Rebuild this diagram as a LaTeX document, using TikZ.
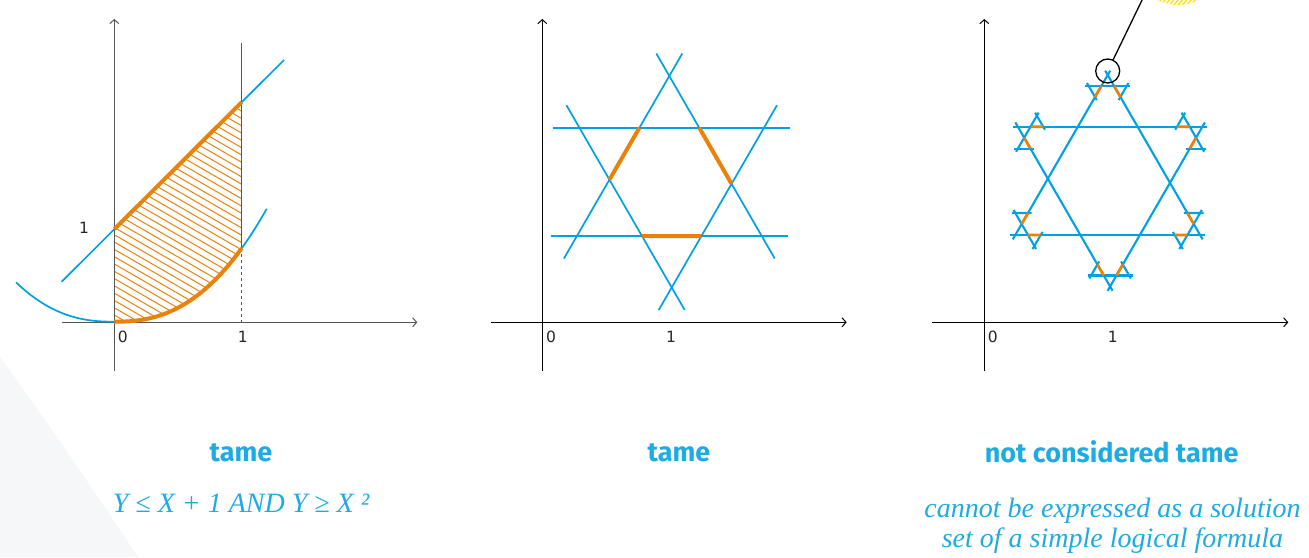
\documentclass[tikz,border=0pt]{standalone}
\usepackage{fontspec}
\newfontfamily\titlefont{Fira Sans}
\newfontfamily\labelfont{DejaVu Sans}
\newfontfamily\serifit{Liberation Serif}
\usetikzlibrary{calc,arrows.meta}
\definecolor{lineblue}{RGB}{0,160,227}
\definecolor{textblue}{RGB}{30,170,226}
\definecolor{orng}{RGB}{234,130,10}
\definecolor{bgfaint}{RGB}{246,247,249}
\definecolor{hatchyellow}{RGB}{255,222,0}
\definecolor{axisgray}{RGB}{85,85,85}
\newcommand\extline[4][blueline]{\draw[#1] ($(#2)!-#4!(#3)$) -- ($(#3)!-#4!(#2)$);}
\newcommand\tipdeco[3]{%
  \coordinate (kP1) at ($(#1)!12.7pt!(#2)$);
  \coordinate (kP2) at ($(#1)!25.4pt!(#2)$);
  \coordinate (kQ1) at ($(#1)!12.7pt!(#3)$);
  \coordinate (kQ2) at ($(#1)!25.4pt!(#3)$);
  \coordinate (kTu) at ($2*(kP1)-(kQ1)$);
  \coordinate (kTw) at ($2*(kQ1)-(kP1)$);
  \extline[rblue]{kTu}{kTw}{3.5pt}
  \extline[rblue]{kTu}{kP2}{3.5pt}
  \extline[rblue]{kTw}{kQ2}{3.5pt}
  \draw[thinorange] (kP1) -- (kP2) (kQ1) -- (kQ2);}
\begin{document}
\begin{tikzpicture}[x=1pt,y=-1pt,
  axis/.style={line width=1pt,-{Straight Barb[length=4pt,width=9pt]}},
  blueline/.style={lineblue,line width=1.7pt},
  rblue/.style={lineblue,line width=2.1pt},
  thickorange/.style={orng,line width=4pt},
  thinorange/.style={orng,line width=2.7pt},
  ticklabel/.style={font=\labelfont\fontsize{15.5}{15.5}\selectfont,text=black!85,inner sep=0pt},
  titletext/.style={font=\titlefont\bfseries\fontsize{27}{32}\selectfont,text=textblue,inner sep=0pt},
  formula/.style={font=\serifit\itshape\fontsize{28}{30.5}\selectfont,text=textblue,inner sep=0pt,align=center},
]
\clip (0,0) rectangle (1309,557);
% faint background shape
\fill[bgfaint] (0,356.7) .. controls (46,420) and (92,488) .. (138.3,557) -- (0,557) -- cycle;

% ================= left picture =================
\coordinate (LyB) at (114.3,371); \coordinate (LyT) at (114.3,19);
\coordinate (LxL) at (61.7,322.3); \coordinate (LxR) at (417.3,322.3);
\begin{scope}
\clip (114.3,229.2) -- (241.7,102.2) -- plot[domain=241.7:114.31,samples=40] ({\x},{321.7-41.07*pow((\x-114.3)/100,2.4)}) -- cycle;
\foreach \i in {0,...,42} \draw[orng,line width=1pt] (105,{25+\i*7.3}) -- (250,{25+\i*7.3+145*0.5774});
\end{scope}
\draw[axis,axisgray] (LyB) -- (LyT);
\draw[axis,axisgray] (LxL) -- (LxR);
\coordinate (LvT) at (241.7,43.3); \coordinate (LvM) at (241.7,248.3); \coordinate (LvB) at (241.7,322.3);
\draw[axisgray,line width=1pt] (LvT) -- (LvM);
\draw[axisgray,line width=1pt,dash pattern=on 3pt off 3pt] (LvM) -- (LvB);
\coordinate (LlA) at (61.7,281.7); \coordinate (LlB) at (284,60);
\draw[blueline] (LlA) -- (LlB);
\draw[blueline] plot[domain=16:266.7,samples=80] ({\x},{321.7-41.07*pow(abs(\x-114.3)/100,2.4)});
\coordinate (Lo1) at (114.3,229.2); \coordinate (Lo2) at (241.7,102.2);
\draw[thickorange] (Lo1) -- (Lo2);
\draw[thickorange] plot[domain=114.31:241.7,samples=40] ({\x},{321.7-41.07*pow((\x-114.3)/100,2.4)});
\node[ticklabel] (L1y) at (84,228.3) {1};
\node[ticklabel] (L0x) at (122.7,337) {0};
\node[ticklabel] (L1x) at (242.7,337) {1};

% ================= middle picture =================
\coordinate (MyB) at (542.3,371); \coordinate (MyT) at (542.3,19);
\coordinate (MxL) at (491,322.3); \coordinate (MxR) at (846.7,322.3);
\draw[axis] (MyB) -- (MyT);
\draw[axis] (MxL) -- (MxR);
\coordinate (U1) at (669.3,76); \coordinate (U2) at (576.9,236); \coordinate (U3) at (761.7,236);
\coordinate (D1) at (671.7,287.5); \coordinate (D2) at (579.4,127.7); \coordinate (D3) at (764,127.7);
\extline{U1}{U2}{26pt} \extline{U1}{U3}{26pt} \extline{U2}{U3}{26pt}
\extline{D1}{D2}{26pt} \extline{D1}{D3}{26pt} \extline{D2}{D3}{26pt}
\coordinate (H1) at (intersection of U1--U2 and D2--D3);
\coordinate (H2) at (intersection of U1--U2 and D1--D2);
\coordinate (H3) at (intersection of U1--U3 and D2--D3);
\coordinate (H4) at (intersection of U1--U3 and D1--D3);
\coordinate (H5) at (intersection of U2--U3 and D1--D2);
\coordinate (H6) at (intersection of U2--U3 and D1--D3);
\draw[thickorange] (H1) -- (H2) (H3) -- (H4) (H5) -- (H6);
\node[ticklabel] (M0x) at (551,337) {0};
\node[ticklabel] (M1x) at (671,337) {1};

% ================= right picture =================
\coordinate (RyB) at (984.3,371); \coordinate (RyT) at (984.3,19);
\coordinate (RxL) at (932.3,322.3); \coordinate (RxR) at (1288.3,322.3);
\draw[axis] (RyB) -- (RyT);
\draw[axis] (RxL) -- (RxR);
\begin{scope}[shift={(438.4,-1)}]
\coordinate (RU1) at (669.3,76); \coordinate (RU2) at (576.9,236); \coordinate (RU3) at (761.7,236);
\coordinate (RD1) at (671.7,287.5); \coordinate (RD2) at (579.4,127.7); \coordinate (RD3) at (764,127.7);
\end{scope}
\extline[rblue]{RU1}{RU2}{5pt} \extline[rblue]{RU1}{RU3}{5pt} \extline[rblue]{RU2}{RU3}{5pt}
\extline[rblue]{RD1}{RD2}{5pt} \extline[rblue]{RD1}{RD3}{5pt} \extline[rblue]{RD2}{RD3}{5pt}
\tipdeco{RU1}{RU2}{RU3}
\tipdeco{RU2}{RU1}{RU3}
\tipdeco{RU3}{RU1}{RU2}
\tipdeco{RD1}{RD2}{RD3}
\tipdeco{RD2}{RD1}{RD3}
\tipdeco{RD3}{RD1}{RD2}
\node[ticklabel] (R0x) at (992.7,337) {0};
\node[ticklabel] (R1x) at (1112.7,337) {1};
% callout
\coordinate (callC) at (1107.7,71);
\coordinate (callEnd) at (1144.5,-5);
\draw[black,line width=1.3pt] (callC) circle [radius=12pt];
\draw[black,line width=1.3pt] ($(callC)!12pt!(callEnd)$) -- (callEnd);
\begin{scope}
\clip (1178,-40) circle [radius=45pt];
\foreach \i in {0,...,16} \draw[hatchyellow,line width=1.2pt] ({1148+\i*4.3},10) -- ({1160+\i*4.3},-4);
\end{scope}

% ================= texts =================
\node[titletext] (T1) at (241,452.5) {tame};
\node[titletext] (T2) at (679,452.5) {tame};
\node[titletext] (T3) at (1111.7,452) {not considered tame};
\node[formula] (F1) at (241,503) {Y ≤ X + 1 AND Y ≥ X ²};
\node[formula] (F3) at (1112.5,526) {cannot be expressed as a solution\\set of a simple logical formula};
\end{tikzpicture}
\end{document}
